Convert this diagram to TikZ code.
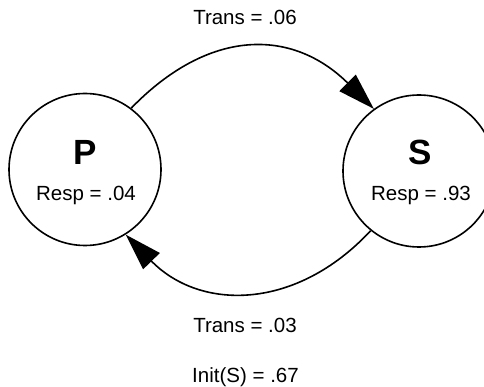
\documentclass[tikz,border=0pt]{standalone}
\usepackage{fontspec}
\setmainfont{Liberation Sans}
\usetikzlibrary{arrows.meta}
\begin{document}
\begin{tikzpicture}[x=1pt,y=-1pt,
  state/.style={draw=black,circle,minimum size=152pt,inner sep=0pt,line width=1.6pt},
  lab/.style={font=\fontsize{20.5}{24}\selectfont,inner sep=0pt,anchor=base},
  big/.style={font=\fontsize{35}{40}\selectfont\bfseries,inner sep=0pt,anchor=base},
  trans/.style={line width=1.6pt,-{Triangle[length=37pt,width=23pt]}}]
\clip (0,0) rectangle (484,387);
\fill[white] (0,0) rectangle (484,387);
\node[state] (P) at (85,169.5) {};
\node[state] (S) at (419,171) {};
\node[big] (Pname) at (85,164.5) {P};
\node[big] (Sname) at (420,164.5) {S};
\node[lab] (Presp) at (86,201) {Resp = .04};
\node[lab] (Sresp) at (421,201) {Resp = .93};
\node[lab] (t1) at (245,25) {Trans = .06};
\node[lab] (t2) at (245,332.7) {Trans = .03};
\node[lab] (init) at (245.5,382.7) {Init(S) = .67};
\draw[trans] (P.53) .. controls (209,28) and (292,28) .. (S.126);
\draw[trans] (S.231) .. controls (296,311) and (200,311) .. (P.302);
\end{tikzpicture}
\end{document}
